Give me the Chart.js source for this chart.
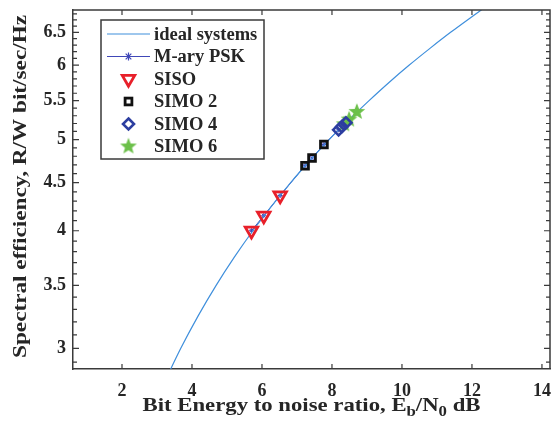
<!DOCTYPE html>
<html>
<head>
<meta charset="utf-8">
<script src="https://cdn.jsdelivr.net/npm/chart.js@4/dist/chart.umd.min.js"></script>
<style>
html,body{margin:0;padding:0;background:#fff;}
#wrap{width:560px;height:433px;}
</style>
</head>
<body>
<div id="wrap"><canvas id="c" width="560" height="433"></canvas></div>
<script>
// ---- data ----
const idealEbN0 = [3.19, 3.68, 4.18, 4.69, 5.21, 5.74, 6.28, 6.82, 7.37, 7.92, 8.49, 9.06, 9.63, 10.21, 10.80, 11.39, 11.99, 12.59];
const idealEff  = [2.75, 3.00, 3.25, 3.50, 3.75, 4.00, 4.25, 4.50, 4.75, 5.00, 5.25, 5.50, 5.75, 6.00, 6.25, 6.50, 6.75, 7.00];

const pskEbN0 = [5.70, 6.05, 6.52, 7.23, 7.43, 7.77, 8.19, 8.28, 8.35, 8.40, 8.49, 8.71];
const pskEff  = [4.00, 4.15, 4.36, 4.69, 4.78, 4.94, 5.12, 5.16, 5.19, 5.21, 5.25, 5.35];

const sisoEbN0 = [5.70, 6.05, 6.52];
const sisoEff  = [4.00, 4.15, 4.36];
const simo2EbN0 = [7.23, 7.43, 7.77];
const simo2Eff  = [4.69, 4.78, 4.94];
const simo4EbN0 = [8.19, 8.28, 8.40];
const simo4Eff  = [5.12, 5.16, 5.21];
const simo6EbN0 = [8.35, 8.49, 8.71];
const simo6Eff  = [5.19, 5.25, 5.35];

const xTicks = [2, 4, 6, 8, 10, 12, 14];
const yTickLabels = [3, 3.5, 4, 4.5, 5, 5.5, 6, 6.5];
const seriesNames = ['ideal systems', 'M-ary PSK', 'SISO', 'SIMO 2', 'SIMO 4', 'SIMO 6'];
const yTitle = 'Spectral efficiency, R/W bit/sec/Hz';

// ---- styling ----
const FONT = '"Liberation Serif", "Times New Roman", serif';
const AXIS = '#3a3a3a';
const TXT = '#262626';
const C_IDEAL = '#3f8fdc';
const C_PSK = '#4048b8';
const C_SISO = '#e8202a';
const C_SIMO2 = '#111111';
const C_SIMO4 = '#2c3ea0';
const C_SIMO6 = '#6cc04a';

function pts(xs, ys){ return xs.map((x,i)=>({x:x, y:ys[i]})); }

// filled 5-point star image for SIMO 6
function makeStar(R){
  const s = Math.ceil(R*2+2);
  const cv = document.createElement('canvas');
  cv.width = s; cv.height = s;
  const g = cv.getContext('2d');
  const cx = s/2, cy = s/2, r = R*0.42;
  g.beginPath();
  for(let k=0;k<10;k++){
    const a = -Math.PI/2 + k*Math.PI/5;
    const rr = (k%2===0)?R:r;
    const px = cx + rr*Math.cos(a), py = cy + rr*Math.sin(a);
    if(k===0) g.moveTo(px,py); else g.lineTo(px,py);
  }
  g.closePath();
  g.fillStyle = C_SIMO6;
  g.fill();
  return cv;
}
const starImg = makeStar(8.8);

// minor y ticks every 0.1
const yAllTicks = [];
for(let k=29;k<=68;k++) yAllTicks.push(k/10);
function isMajorY(v){ return yTickLabels.some(t=>Math.abs(t-v)<1e-6); }

const datasets = [
  {label: seriesNames[2], data: pts(sisoEbN0, sisoEff), showLine:false, pointStyle:'triangle', rotation:180,
   pointRadius:7.2, borderWidth:2.8, borderColor:C_SISO, backgroundColor:'rgba(0,0,0,0)', order:0},
  {label: seriesNames[3], data: pts(simo2EbN0, simo2Eff), showLine:false, pointStyle:'rect',
   pointRadius:4.8, borderWidth:2.8, borderColor:C_SIMO2, backgroundColor:'rgba(0,0,0,0)', order:0},
  {label: seriesNames[4], data: pts(simo4EbN0, simo4Eff), showLine:false, pointStyle:'rectRot',
   pointRadius:5.5, borderWidth:2.6, borderColor:C_SIMO4, backgroundColor:'rgba(0,0,0,0)', order:0},
  {label: seriesNames[5], data: pts(simo6EbN0, simo6Eff), showLine:false, pointStyle:starImg,
   pointRadius:8, borderWidth:0, order:0},
  {label: seriesNames[0], data: pts(idealEbN0, idealEff), showLine:true, pointRadius:0,
   borderColor:C_IDEAL, borderWidth:1.2, cubicInterpolationMode:'monotone', order:1},
  {label: seriesNames[1], data: pts(pskEbN0, pskEff), showLine:true, pointStyle:'star',
   pointRadius:2.5, borderWidth:1, borderColor:C_PSK, backgroundColor:C_PSK, order:2}
];

// draw text stretched horizontally to a target width
function stretchedText(ctx, text, font, cx, baseY, targetW){
  ctx.font = font;
  const w = ctx.measureText(text).width;
  const k = targetW / w;
  ctx.save();
  ctx.translate(cx, baseY);
  ctx.scale(k, 1);
  ctx.textAlign = 'center';
  ctx.textBaseline = 'alphabetic';
  ctx.fillText(text, 0, 0);
  ctx.restore();
}

const framePlugin = {
  id:'frame',
  afterDraw(chart){
    const ctx = chart.ctx, ca = chart.chartArea;
    const xs = chart.scales.x, ys = chart.scales.y;
    ctx.save();
    ctx.strokeStyle = AXIS;
    ctx.lineWidth = 1.5;
    // top and right frame
    ctx.beginPath();
    ctx.moveTo(ca.left, ca.top); ctx.lineTo(ca.right, ca.top); ctx.lineTo(ca.right, ca.bottom);
    ctx.stroke();
    ctx.lineWidth = 1.2;
    // x ticks inward (bottom & top)
    xs.ticks.forEach(t=>{
      const px = xs.getPixelForValue(t.value);
      ctx.beginPath();
      ctx.moveTo(px, ca.bottom); ctx.lineTo(px, ca.bottom-5);
      ctx.moveTo(px, ca.top); ctx.lineTo(px, ca.top+5);
      ctx.stroke();
    });
    // y ticks inward (left & right)
    ys.ticks.forEach(t=>{
      const py = ys.getPixelForValue(t.value);
      if(py < ca.top || py > ca.bottom) return;
      const len = isMajorY(t.value) ? 6 : 4;
      ctx.beginPath();
      ctx.moveTo(ca.left, py); ctx.lineTo(ca.left+len, py);
      ctx.moveTo(ca.right, py); ctx.lineTo(ca.right-len, py);
      ctx.stroke();
    });

    ctx.fillStyle = TXT;
    // y axis title (rotated)
    ctx.save();
    ctx.translate(26, (ca.top + ca.bottom)/2 - 3);
    ctx.rotate(-Math.PI/2);
    stretchedText(ctx, yTitle, 'bold 19px ' + FONT, 0, 0, 343);
    ctx.restore();

    // x axis title with subscripts
    const big = 'bold 19px ' + FONT, small = 'bold 14px ' + FONT;
    const parts = [
      {t:'Bit Energy to noise ratio, E', f:big, dy:0},
      {t:'b', f:small, dy:5},
      {t:'/N', f:big, dy:0},
      {t:'0', f:small, dy:5},
      {t:' dB', f:big, dy:0}
    ];
    let w = 0;
    parts.forEach(p=>{ ctx.font = p.f; p.w = ctx.measureText(p.t).width; w += p.w; });
    const targetW = 338, k = targetW / w;
    ctx.save();
    ctx.translate((ca.left+ca.right)/2 - targetW/2, ca.bottom + 42);
    ctx.scale(k, 1);
    ctx.textBaseline = 'alphabetic';
    ctx.textAlign = 'left';
    let x0 = 0;
    parts.forEach(p=>{ ctx.font = p.f; ctx.fillText(p.t, x0, p.dy); x0 += p.w; });
    ctx.restore();

    // legend box
    const L = ca.left + 28, T = ca.top + 10, W = 163, H = 139;
    ctx.fillStyle = '#fff';
    ctx.fillRect(L, T, W, H);
    ctx.strokeStyle = AXIS; ctx.lineWidth = 1.5;
    ctx.strokeRect(L, T, W, H);
    const rowY = i => T + 14 + i*22.5;
    const lx0 = L + 6, lx1 = L + 49, mx = (lx0+lx1)/2, tx = L + 53;
    ctx.font = 'bold 18.5px ' + FONT; ctx.fillStyle = TXT; ctx.textBaseline = 'middle'; ctx.textAlign = 'left';
    seriesNames.forEach((name,i)=>{ ctx.fillText(name, tx, rowY(i)+1); });
    // ideal line
    ctx.strokeStyle = C_IDEAL; ctx.lineWidth = 1.2;
    ctx.beginPath(); ctx.moveTo(lx0, rowY(0)); ctx.lineTo(lx1, rowY(0)); ctx.stroke();
    // psk line + asterisk
    ctx.strokeStyle = C_PSK; ctx.lineWidth = 1.2;
    ctx.beginPath(); ctx.moveTo(lx0, rowY(1)); ctx.lineTo(lx1, rowY(1)); ctx.stroke();
    const ast = (x,y,r)=>{
      ctx.beginPath();
      for(let q=0;q<4;q++){ const a = q*Math.PI/4; ctx.moveTo(x - r*Math.cos(a), y - r*Math.sin(a)); ctx.lineTo(x + r*Math.cos(a), y + r*Math.sin(a)); }
      ctx.stroke();
    };
    ast(mx, rowY(1), 4);
    // triangle
    ctx.strokeStyle = C_SISO; ctx.lineWidth = 2.8;
    {
      const y = rowY(2), r = 7.2;
      ctx.beginPath();
      for(let q=0;q<3;q++){ const a = Math.PI/2 + q*2*Math.PI/3; const px = mx + r*Math.cos(a), py = y + r*Math.sin(a); if(q===0) ctx.moveTo(px,py); else ctx.lineTo(px,py); }
      ctx.closePath(); ctx.stroke();
    }
    // square
    ctx.strokeStyle = C_SIMO2; ctx.lineWidth = 2.8;
    { const s = 4.8*Math.SQRT1_2; ctx.strokeRect(mx - s, rowY(3) - s, 2*s, 2*s); }
    // diamond
    ctx.strokeStyle = C_SIMO4; ctx.lineWidth = 2.6;
    { const y = rowY(4), r = 5.5; ctx.beginPath(); ctx.moveTo(mx, y-r); ctx.lineTo(mx+r, y); ctx.lineTo(mx, y+r); ctx.lineTo(mx-r, y); ctx.closePath(); ctx.stroke(); }
    // star
    ctx.drawImage(starImg, mx - starImg.width/2, rowY(5) - starImg.height/2);
    ctx.restore();
  }
};

new Chart(document.getElementById('c'), {
  type: 'scatter',
  data: { datasets: datasets },
  options: {
    responsive: false,
    animation: false,
    layout: { padding: { top: 10, right: 10, left: 0, bottom: 0 } },
    plugins: { legend: { display: false }, tooltip: { enabled: false } },
    scales: {
      x: {
        type: 'linear', min: 0.6, max: 14.23,
        afterBuildTicks: s => { s.ticks = xTicks.map(v => ({ value: v })); },
        afterFit: s => { s.height = 64; s.paddingLeft = 0; s.paddingRight = 0; },
        ticks: { autoSkip: false, maxRotation: 0, padding: 12, color: TXT,
                 font: { family: FONT, size: 18, weight: 'bold' },
                 callback: v => String(v) },
        grid: { display: false, drawTicks: false },
        border: { display: true, color: AXIS, width: 1.5 }
      },
      y: {
        type: 'logarithmic', min: 2.852, max: 6.865,
        afterBuildTicks: s => { s.ticks = yAllTicks.map(v => ({ value: v })); },
        afterFit: s => { s.width = 73; s.paddingTop = 0; s.paddingBottom = 0; },
        ticks: { autoSkip: false, padding: 7, color: TXT,
                 font: { family: FONT, size: 18, weight: 'bold' },
                 callback: v => isMajorY(v) ? String(yTickLabels.find(t => Math.abs(t - v) < 1e-6)) : '' },
        grid: { display: false, drawTicks: false },
        border: { display: true, color: AXIS, width: 1.5 },
        title: { display: false }
      }
    }
  },
  plugins: [framePlugin]
});
</script>
</body>
</html>
